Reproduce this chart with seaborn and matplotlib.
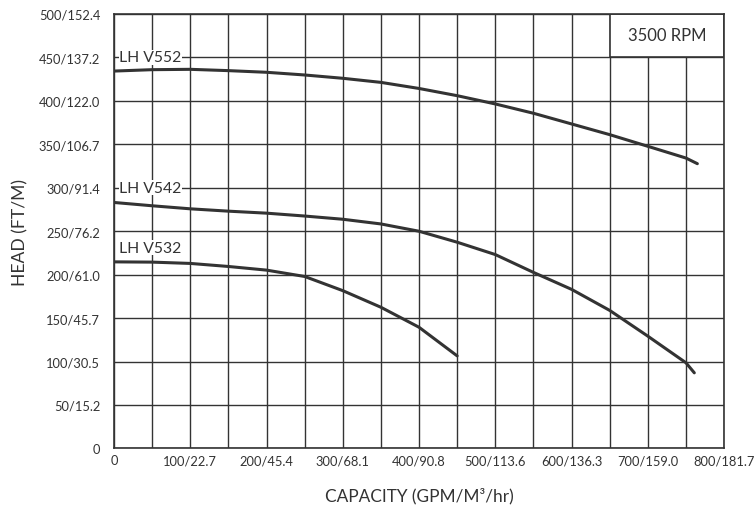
import numpy as np
import pandas as pd
import matplotlib
matplotlib.use("Agg")
import matplotlib.pyplot as plt
import seaborn as sns
from matplotlib.patches import Rectangle

# -----------------------------------
# Data
# -----------------------------------

v552_gpm = [0, 50, 100, 150, 200, 250, 300, 350, 400, 450, 500, 550, 600, 650, 700, 750, 765]
v552_head = [434, 435.6, 436, 434.5, 432.6, 429.5, 425.7, 421, 414, 405.7, 396.2, 385.5, 373.2, 360.9, 347.5, 334, 327.5]

v542_gpm = [0, 50, 100, 150, 200, 250, 300, 350, 400, 450, 500, 550, 600, 650, 700, 750, 761]
v542_head = [282.9, 279.1, 275.6, 272.9, 270.6, 267.3, 263.6, 258.2, 249.8, 237.2, 223, 202.5, 183, 158.8, 129.2, 98.6, 87]

v532_gpm = [0, 50, 100, 150, 200, 250, 300, 350, 400, 450]
v532_head = [214.6, 214.3, 212.8, 209.3, 205.1, 197.8, 181.5, 162.4, 139.4, 106.5]

curve_names = ["LH V552", "LH V542", "LH V532"]
label_heads = [450, 300, 231]

x_ticks = [0, 100, 200, 300, 400, 500, 600, 700, 800]
x_tick_labels = ["0", "100/22.7", "200/45.4", "300/68.1", "400/90.8",
                 "500/113.6", "600/136.3", "700/159.0", "800/181.7"]

y_ticks = [0, 50, 100, 150, 200, 250, 300, 350, 400, 450, 500]
y_tick_labels = ["0", "50/15.2", "100/30.5", "150/45.7", "200/61.0",
                 "250/76.2", "300/91.4", "350/106.7", "400/122.0",
                 "450/137.2", "500/152.4"]

df = pd.concat([
    pd.DataFrame({"gpm": v552_gpm, "head": v552_head, "pump": curve_names[0]}),
    pd.DataFrame({"gpm": v542_gpm, "head": v542_head, "pump": curve_names[1]}),
    pd.DataFrame({"gpm": v532_gpm, "head": v532_head, "pump": curve_names[2]}),
])

# -----------------------------------
# Style
# -----------------------------------

sns.set_style("white")
plt.rcParams["font.family"] = ["Lato", "DejaVu Sans"]

INK = "#333333"

fig = plt.figure(figsize=(7.55, 5.06), dpi=100)
ax = fig.add_axes([0.151, 0.1117, 0.808, 0.8593])

sns.lineplot(
    data=df,
    x="gpm",
    y="head",
    hue="pump",
    palette=[INK, INK, INK],
    linewidth=2.2,
    legend=False,
    sort=False,
    ax=ax,
    zorder=3
)

ax.set_xlim(0, 800)
ax.set_ylim(0, 500)

ax.set_xticks(x_ticks)
ax.set_xticklabels(x_tick_labels)
ax.set_xticks(np.arange(50, 800, 100), minor=True)
ax.set_yticks(y_ticks)
ax.set_yticklabels(y_tick_labels)

ax.tick_params(axis="both", which="both", length=0, labelsize=9.3, colors=INK)
ax.tick_params(axis="x", pad=4)
ax.tick_params(axis="y", pad=10)

ax.grid(True, which="both", color=INK, linewidth=1.0)
ax.set_axisbelow(True)

for spine in ax.spines.values():
    spine.set_color(INK)
    spine.set_linewidth(1.2)

# RPM box over the grid
ax.add_patch(Rectangle((650, 450), 150, 50, facecolor="white",
                       edgecolor=INK, linewidth=1.2, zorder=2))
ax.text(725, 475, "3500 RPM", ha="center", va="center",
        fontsize=12, color=INK, zorder=4)

# curve labels
for name, h in zip(curve_names, label_heads):
    ax.text(7, h, name, ha="left", va="center", fontsize=11.3, color=INK,
            zorder=4,
            bbox=dict(facecolor="white", edgecolor="none", pad=0.5))

ax.set_xlabel("CAPACITY (GPM/M³/hr)", fontsize=12.4, color=INK)
ax.set_ylabel("HEAD (FT/M)", fontsize=12.6, color=INK)
ax.xaxis.set_label_coords(0.5, -0.088)
ax.yaxis.set_label_coords(-0.14, 0.5)

fig.savefig("out.png", dpi=100)
